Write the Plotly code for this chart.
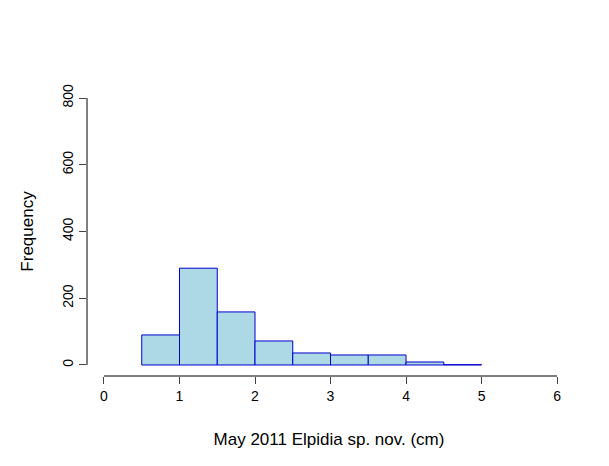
import plotly.graph_objects as go

bin_left = [0.5, 1.0, 1.5, 2.0, 2.5, 3.0, 3.5, 4.0, 4.5]
counts = [90, 290, 159, 72, 36, 30, 30, 9, 1]
bin_width = 0.5
x_ticks = [0, 1, 2, 3, 4, 5, 6]
y_ticks = [0, 200, 400, 600, 800]

centers = [b + bin_width / 2 for b in bin_left]

fig = go.Figure()
fig.add_trace(go.Bar(x=centers, y=counts, width=bin_width,
                     marker=dict(color='lightblue', line=dict(color='#0000CD', width=1))))

font = dict(family='Liberation Sans, Arial', size=14, color='black')
fig.update_layout(
    width=609, height=466, plot_bgcolor='white', paper_bgcolor='white',
    margin=dict(l=79, r=46, t=79, b=98), showlegend=False, font=font,
    xaxis=dict(range=[-0.225, 6.185], tickvals=x_ticks, ticks='outside', ticklen=7,
               showgrid=False, zeroline=False, showline=False, automargin=False,
               title=dict(text='May 2011 Elpidia sp. nov. (cm)', standoff=30)),
    yaxis=dict(range=[-33, 833], tickvals=y_ticks, ticks='outside', ticklen=7,
               tickangle=-90, showgrid=False, zeroline=False, showline=False,
               automargin=False,
               title=dict(text='Frequency', standoff=22)),
    shapes=[
        dict(type='line', xref='x', yref='paper', x0=0, x1=6, y0=0, y1=0,
             line=dict(color='black', width=1)),
        dict(type='line', xref='paper', yref='y', x0=0, x1=0, y0=0, y1=800,
             line=dict(color='black', width=1)),
    ],
)
fig.write_html("out.html")
